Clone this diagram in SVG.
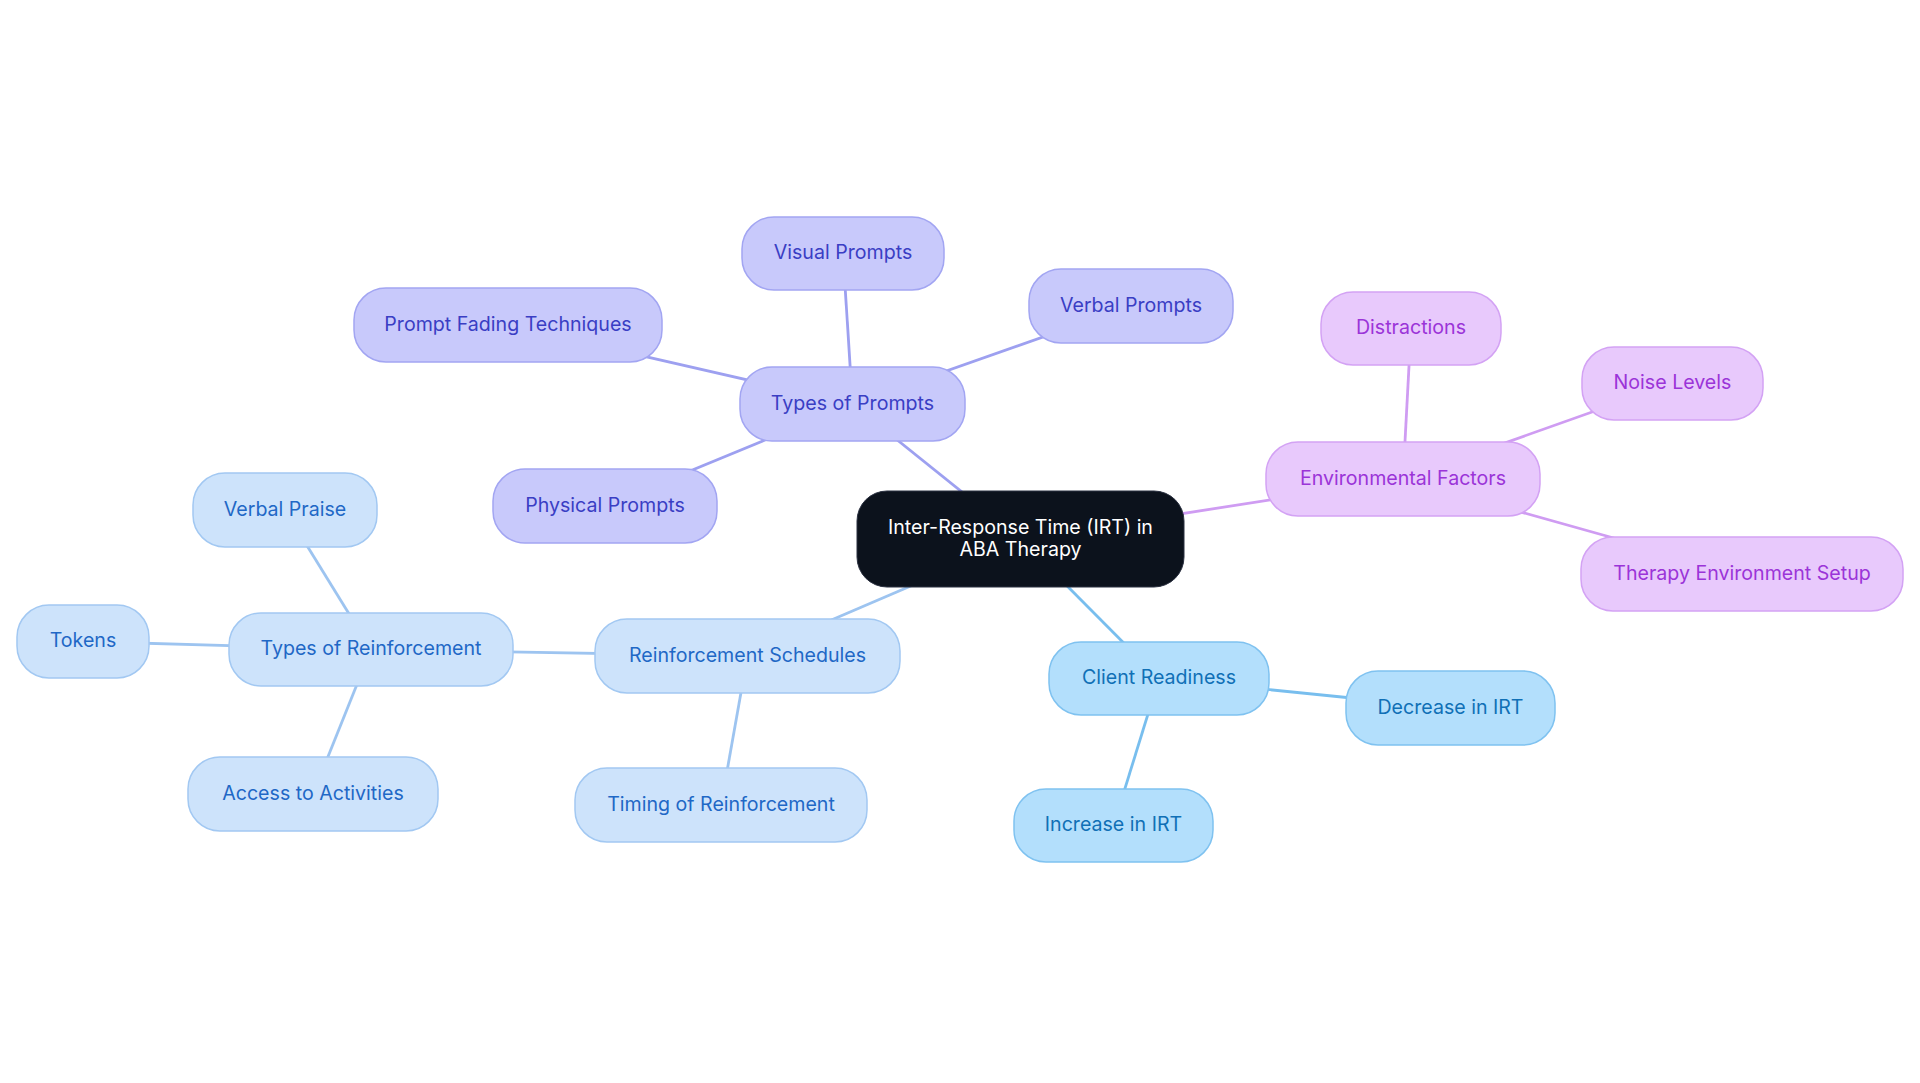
<svg xmlns="http://www.w3.org/2000/svg" width="1920" height="1083" viewBox="0 0 1920 1083">
<style>
text{font-family:Inter,"Noto Sans","Liberation Sans",sans-serif;font-size:19.6px;text-anchor:middle}
.n text{transform:translateY(-1.5px)}
.n rect{stroke-width:1.5}
.p rect{fill:#c8c9fb;stroke:#a2a5f2}.p text{fill:#3a3ec4}
.e rect{fill:#e8c9fc;stroke:#d3a2f4}.e text{fill:#9b34d8}
.r rect{fill:#cde3fb;stroke:#a2c8f2}.r text{fill:#1f68c6}
.c rect{fill:#b3dffc;stroke:#7fc2f0}.c text{fill:#1070b6}
#center rect{fill:#0c121c;stroke:#2a3040}#center text{fill:#ffffff}
#edges line{stroke-width:2.8;fill:none}
.lp{stroke:#9da0f0}.le{stroke:#cf9cf2}.lr{stroke:#9dc4f0}.lc{stroke:#78beee}
</style>
<rect width="1920" height="1083" fill="#ffffff"/>
<g id="edges">
<line class="lp" x1="1020.5" y1="539" x2="852.5" y2="404"/>
<line class="lp" x1="852.5" y1="404" x2="843" y2="253.5"/>
<line class="lp" x1="852.5" y1="404" x2="1131" y2="306"/>
<line class="lp" x1="852.5" y1="404" x2="508" y2="325"/>
<line class="lp" x1="852.5" y1="404" x2="605" y2="506"/>
<line class="le" x1="1020.5" y1="539" x2="1403" y2="479"/>
<line class="le" x1="1403" y1="479" x2="1411" y2="328.5"/>
<line class="le" x1="1403" y1="479" x2="1672.5" y2="383.5"/>
<line class="le" x1="1403" y1="479" x2="1742" y2="574"/>
<line class="lr" x1="1020.5" y1="539" x2="747.5" y2="656"/>
<line class="lr" x1="747.5" y1="656" x2="721" y2="805"/>
<line class="lr" x1="747.5" y1="656" x2="371" y2="649.5"/>
<line class="lr" x1="371" y1="649.5" x2="285" y2="510"/>
<line class="lr" x1="371" y1="649.5" x2="83" y2="641.5"/>
<line class="lr" x1="371" y1="649.5" x2="313" y2="794"/>
<line class="lc" x1="1020.5" y1="539" x2="1159" y2="678.5"/>
<line class="lc" x1="1159" y1="678.5" x2="1450.5" y2="708"/>
<line class="lc" x1="1159" y1="678.5" x2="1113.5" y2="825.5"/>
</g>
<g id="center"><rect x="857" y="491" width="327" height="96" rx="30"/><text x="1020.5" y="534">Inter-Response Time (IRT) in</text><text x="1020.5" y="555.5">ABA Therapy</text></g>
<g id="types-of-prompts" class="n p"><rect x="740" y="367" width="225" height="74" rx="32"/><text x="852.5" y="411">Types of Prompts</text></g>
<g id="visual-prompts" class="n p"><rect x="742" y="217" width="202" height="73" rx="32"/><text x="843" y="260.5">Visual Prompts</text></g>
<g id="verbal-prompts" class="n p"><rect x="1029" y="269" width="204" height="74" rx="32"/><text x="1131" y="313">Verbal Prompts</text></g>
<g id="prompt-fading" class="n p"><rect x="354" y="288" width="308" height="74" rx="32"/><text x="508" y="332">Prompt Fading Techniques</text></g>
<g id="physical-prompts" class="n p"><rect x="493" y="469" width="224" height="74" rx="32"/><text x="605" y="513">Physical Prompts</text></g>
<g id="environmental-factors" class="n e"><rect x="1266" y="442" width="274" height="74" rx="32"/><text x="1403" y="486">Environmental Factors</text></g>
<g id="distractions" class="n e"><rect x="1321" y="292" width="180" height="73" rx="32"/><text x="1411" y="335.5">Distractions</text></g>
<g id="noise-levels" class="n e"><rect x="1582" y="347" width="181" height="73" rx="32"/><text x="1672.5" y="390.5">Noise Levels</text></g>
<g id="therapy-environment" class="n e"><rect x="1581" y="537" width="322" height="74" rx="32"/><text x="1742" y="581">Therapy Environment Setup</text></g>
<g id="reinforcement-schedules" class="n r"><rect x="595" y="619" width="305" height="74" rx="32"/><text x="747.5" y="663">Reinforcement Schedules</text></g>
<g id="timing-of-reinforcement" class="n r"><rect x="575" y="768" width="292" height="74" rx="32"/><text x="721" y="812">Timing of Reinforcement</text></g>
<g id="types-of-reinforcement" class="n r"><rect x="229" y="613" width="284" height="73" rx="32"/><text x="371" y="656.5">Types of Reinforcement</text></g>
<g id="verbal-praise" class="n r"><rect x="193" y="473" width="184" height="74" rx="32"/><text x="285" y="517">Verbal Praise</text></g>
<g id="tokens" class="n r"><rect x="17" y="605" width="132" height="73" rx="32"/><text x="83" y="648.5">Tokens</text></g>
<g id="access-to-activities" class="n r"><rect x="188" y="757" width="250" height="74" rx="32"/><text x="313" y="801">Access to Activities</text></g>
<g id="client-readiness" class="n c"><rect x="1049" y="642" width="220" height="73" rx="32"/><text x="1159" y="685.5">Client Readiness</text></g>
<g id="decrease-irt" class="n c"><rect x="1346" y="671" width="209" height="74" rx="32"/><text x="1450.5" y="715">Decrease in IRT</text></g>
<g id="increase-irt" class="n c"><rect x="1014" y="789" width="199" height="73" rx="32"/><text x="1113.5" y="832.5">Increase in IRT</text></g>
</svg>
